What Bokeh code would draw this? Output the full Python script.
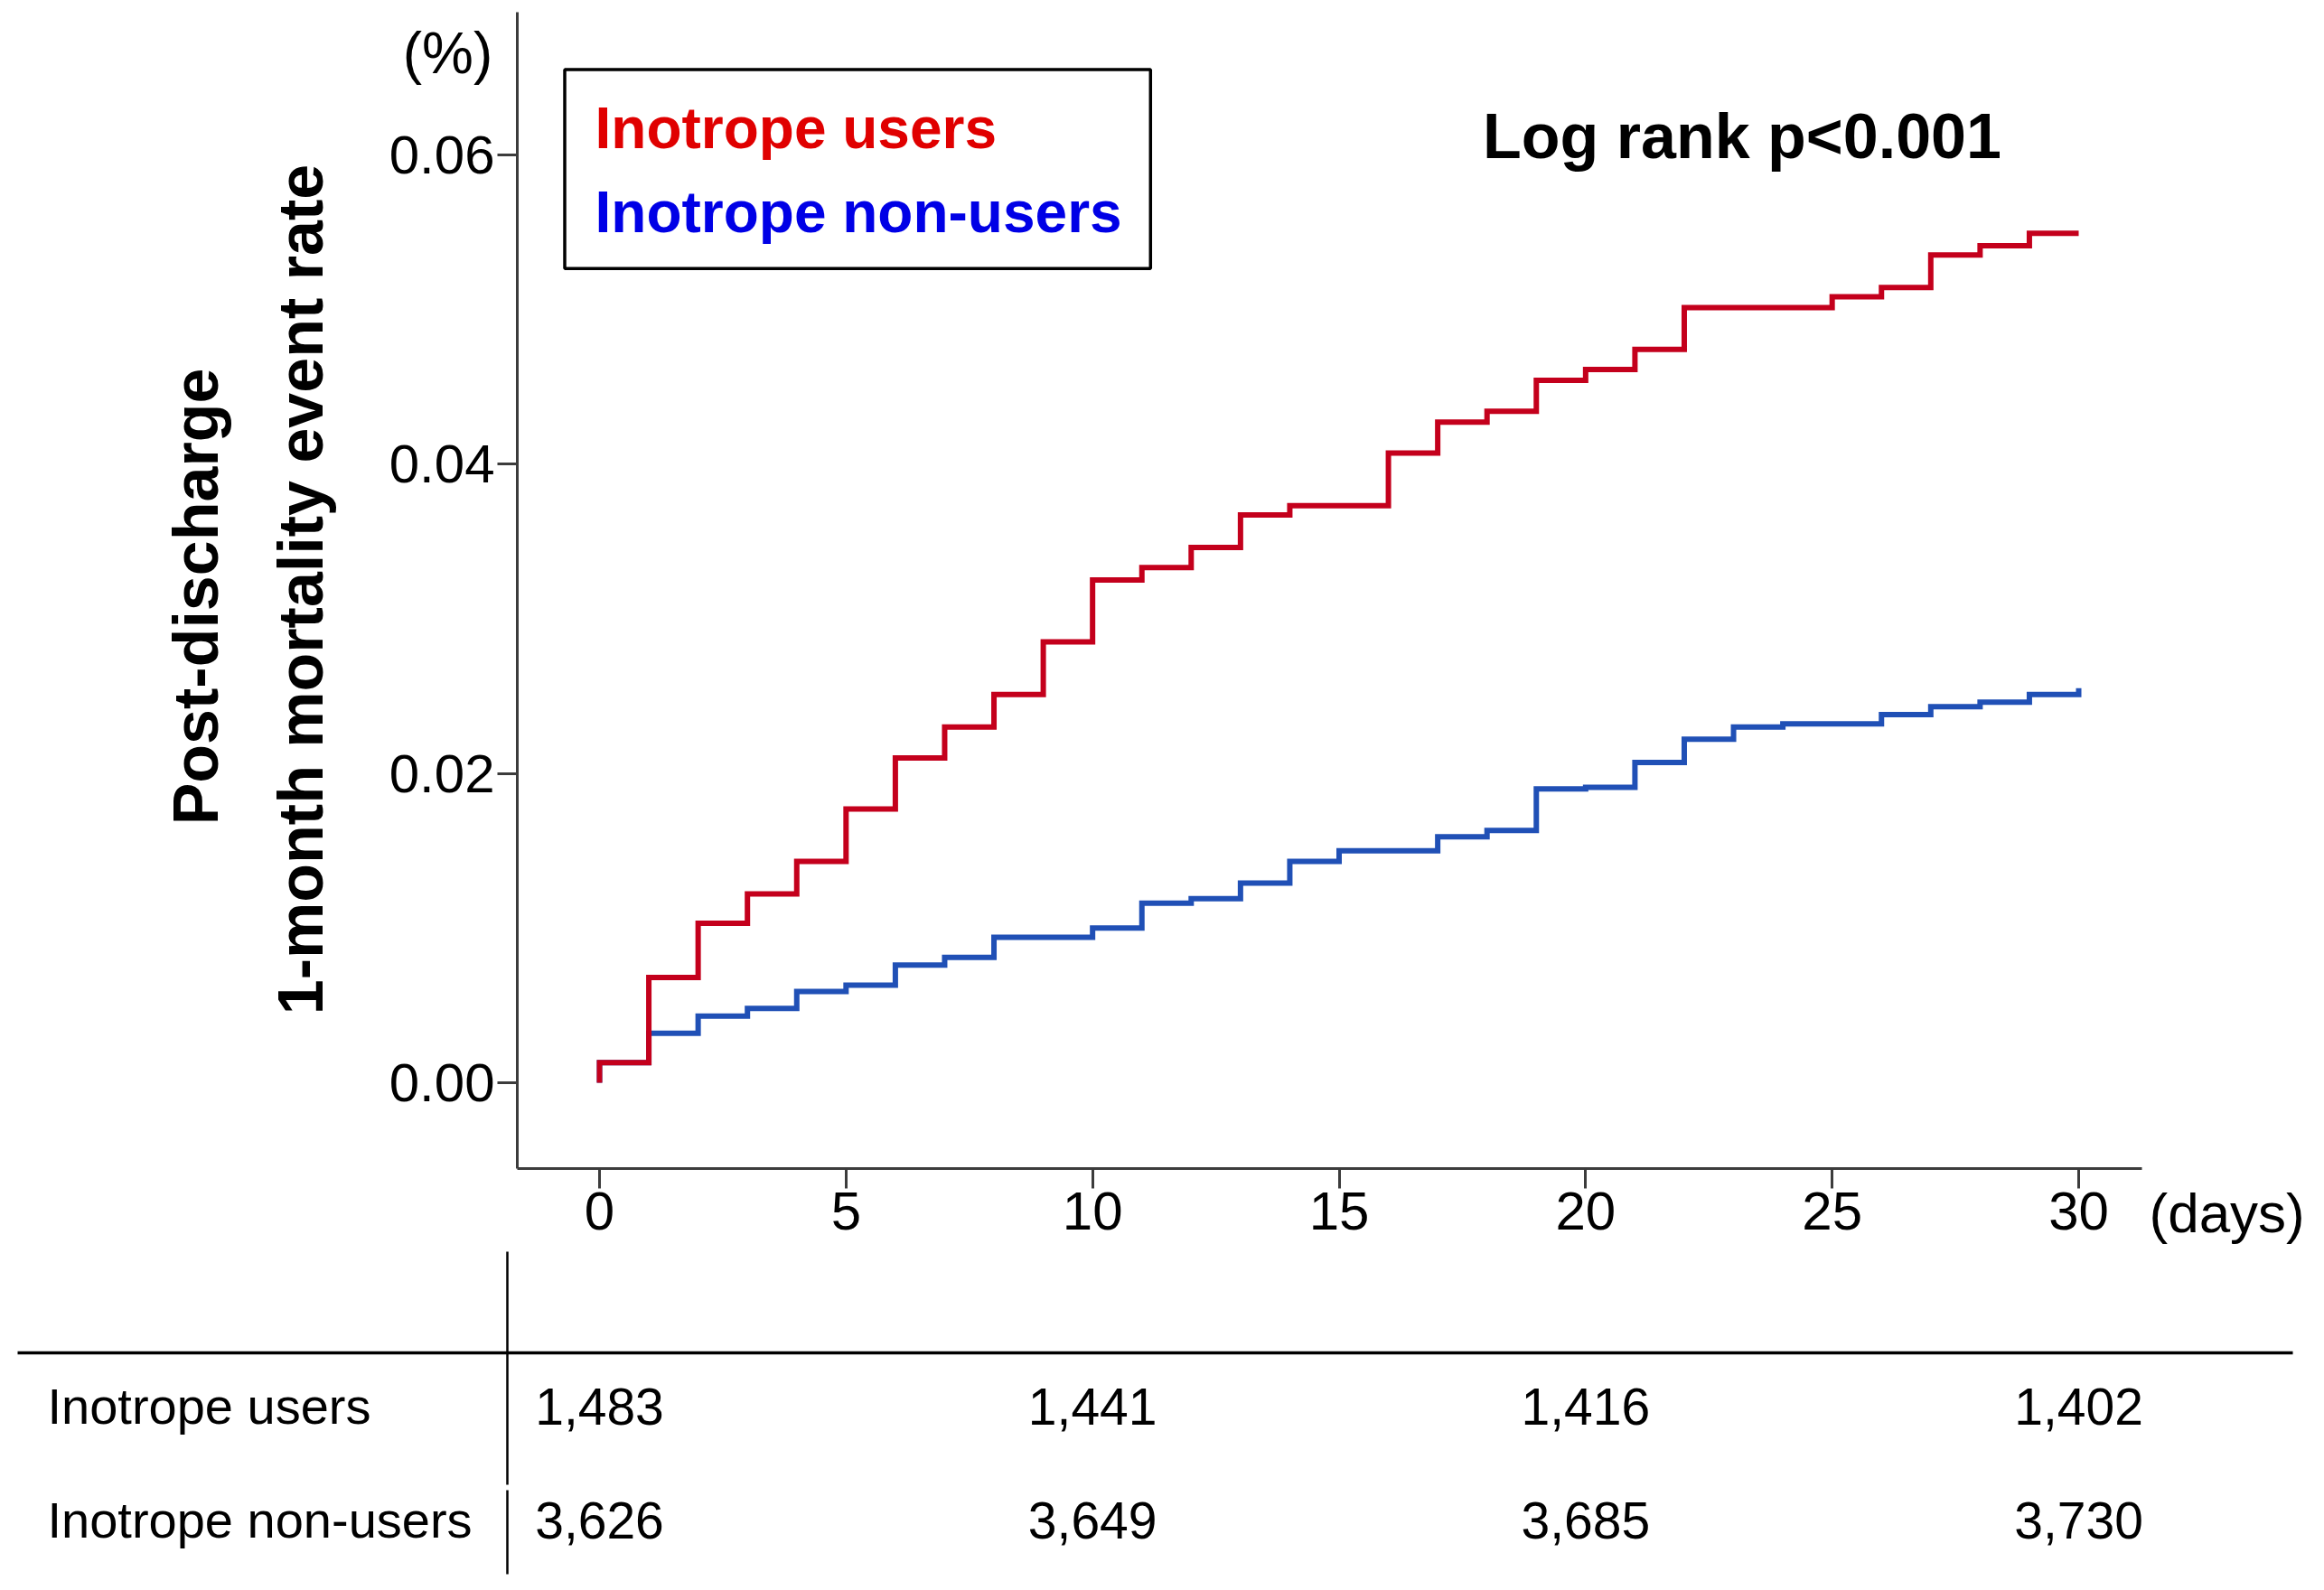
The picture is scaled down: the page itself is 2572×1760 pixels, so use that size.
import math
from bokeh.plotting import figure
from bokeh.models import Range1d, FixedTicker, PrintfTickFormatter
from bokeh.core.properties import value
from bokeh.embed import file_html
from bokeh.resources import INLINE

# ---------------- data ----------------
days = list(range(31))
users_rate = [0.0013, 0.0068, 0.0103, 0.0122, 0.0143, 0.0177, 0.0210, 0.0230, 0.0251, 0.0285,
              0.0325, 0.0333, 0.0346, 0.0367, 0.0373, 0.0373, 0.0407, 0.0427, 0.0434, 0.0454,
              0.0461, 0.0474, 0.0501, 0.0501, 0.0501, 0.0508, 0.0514, 0.0535, 0.0541, 0.0549,
              0.0549]
nonusers_rate = [0.0013, 0.0032, 0.0043, 0.0048, 0.0059, 0.0063, 0.0076, 0.0081, 0.0094, 0.0094,
                 0.0100, 0.0116, 0.0119, 0.0129, 0.0143, 0.0150, 0.0150, 0.0159, 0.0163, 0.0190,
                 0.0191, 0.0207, 0.0222, 0.0230, 0.0232, 0.0232, 0.0238, 0.0243, 0.0246, 0.0251,
                 0.0255]
series_names = ["Inotrope users", "Inotrope non-users"]
table_days = [0, 10, 20, 30]
users_at_risk = ["1,483", "1,441", "1,416", "1,402"]
nonusers_at_risk = ["3,626", "3,649", "3,685", "3,730"]
x_ticks = [0, 5, 10, 15, 20, 25, 30]
y_ticks = [0.0, 0.02, 0.04, 0.06]

# ---------------- geometry (canvas pixels) ----------------
W, H = 2556, 1744
PX_DAY0, PX_PER_DAY = 663.0, 54.567       # x pixel of day 0, pixels per day
PY_ZERO, PX_PER_UNIT = 1198.0, 17125.0    # y pixel of rate 0, pixels per unit rate
AX_LEFT, AX_RIGHT, AX_TOP, AX_BOTTOM = 572, 2370, 13, 1293

RED_LINE = "#c4001c"
BLUE_LINE = "#2050b6"
RED_TXT = "#e00000"
BLUE_TXT = "#0000e6"
SANS = "Liberation Sans"
AXIS_COL = "#3c3c3c"


def gx(px):
    return (px - PX_DAY0) / PX_PER_DAY


def gy(py):
    return (PY_ZERO - py) / PX_PER_UNIT


p = figure(width=W, height=H, x_range=Range1d(gx(0), gx(W)), y_range=Range1d(gy(H), gy(0)),
           output_backend="svg", toolbar_location=None,
           min_border_left=0, min_border_right=0, min_border_top=0, min_border_bottom=0)
p.grid.visible = False
p.outline_line_color = None
p.background_fill_color = "white"
p.border_fill_color = "white"

xa = p.xaxis[0]
ya = p.yaxis[0]
xa.fixed_location = gy(AX_BOTTOM)
ya.fixed_location = gx(AX_LEFT)
xa.bounds = (gx(AX_LEFT), gx(AX_RIGHT))
ya.bounds = (gy(AX_BOTTOM), gy(AX_TOP))
xa.ticker = FixedTicker(ticks=x_ticks)
ya.ticker = FixedTicker(ticks=y_ticks)
ya.formatter = PrintfTickFormatter(format="%.2f")
for ax in (xa, ya):
    ax.axis_line_width = 3
    ax.axis_line_color = AXIS_COL
    ax.major_tick_line_width = 3
    ax.major_tick_line_color = AXIS_COL
    ax.major_tick_out = 22
    ax.major_tick_in = 0
    ax.minor_tick_out = 0
    ax.minor_tick_in = 0
    ax.major_label_text_font = SANS
    ax.major_label_text_font_size = "60px"
    ax.major_label_text_color = "black"
ya.major_label_standoff = 3
xa.major_label_standoff = 4

# step curves
p.step(x=[0] + days, y=[0.0] + nonusers_rate, mode="after", line_width=6,
       line_color=BLUE_LINE, line_join="miter")
p.step(x=[0] + days, y=[0.0] + users_rate, mode="after", line_width=6,
       line_color=RED_LINE, line_join="miter")

# legend box
p.quad(left=gx(624.5), right=gx(1272.8), top=gy(76.6), bottom=gy(296.7),
       fill_color="white", line_color="black", line_width=3.5)
p.text(x=[gx(658), gx(658)], y=[gy(141.6), gy(234.5)], text=series_names,
       text_color=[RED_TXT, BLUE_TXT], text_font=value(SANS), text_font_style="bold",
       text_font_size=value("64px"), text_align="left", text_baseline="middle")

# log rank
p.text(x=[gx(1927.5)], y=[gy(150.5)], text=["Log rank p<0.001"], text_color="black",
       text_font=value(SANS), text_font_style="bold", text_font_size=value("70px"),
       text_align="center", text_baseline="middle")

# axis unit labels
p.text(x=[gx(495)], y=[gy(58)], text=["(%)"], text_color="black", text_font=value(SANS),
       text_font_size=value("64px"), text_align="center", text_baseline="middle")
p.text(x=[gx(2378)], y=[gy(1342)], text=["(days)"], text_color="black", text_font=value(SANS),
       text_font_size=value("62px"), text_align="left", text_baseline="middle")

# y axis title (two rotated lines)
p.text(x=[gx(216), gx(332)], y=[gy(660), gy(652)],
       text=["Post-discharge", "1-month mortality event rate"], text_color="black",
       text_font=value(SANS), text_font_style="bold", text_font_size=value("70px"),
       angle=math.pi / 2, text_align="center", text_baseline="middle")

# number-at-risk table
p.segment(x0=[gx(19), gx(561), gx(561)], y0=[gy(1497), gy(1385), gy(1649)],
          x1=[gx(2537), gx(561), gx(561)], y1=[gy(1497), gy(1643), gy(1742)],
          line_color="black", line_width=[3.5, 2.5, 2.5])
row_y = [1556, 1682]
p.text(x=[gx(52), gx(52)], y=[gy(r) for r in row_y], text=series_names, text_color="black",
       text_font=value(SANS), text_font_size=value("56px"), text_align="left",
       text_baseline="middle")
for counts, ry in zip([users_at_risk, nonusers_at_risk], row_y):
    p.text(x=table_days, y=[gy(ry)] * len(table_days), text=counts, text_color="black",
           text_font=value(SANS), text_font_size=value("57px"), text_align="center",
           text_baseline="middle")

open("out.html", "w").write(file_html(p, INLINE))
